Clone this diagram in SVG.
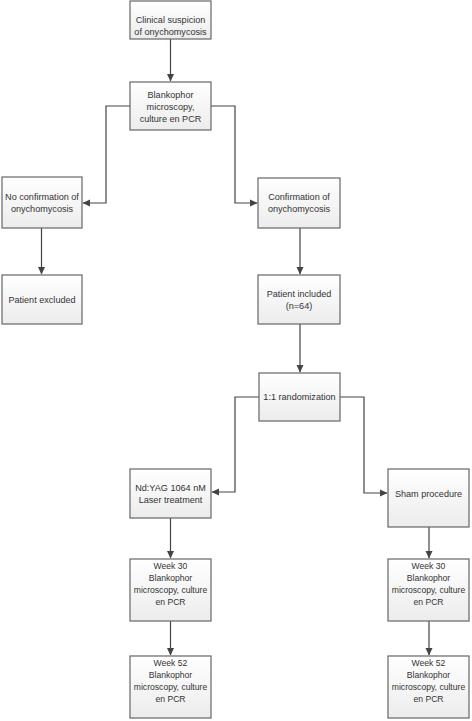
<svg xmlns="http://www.w3.org/2000/svg" width="472" height="721" viewBox="0 0 472 721">
<defs>
<linearGradient id="g" x1="0" y1="0" x2="0" y2="1">
<stop offset="0" stop-color="#ffffff"/>
<stop offset="1" stop-color="#ececec"/>
</linearGradient>
<marker id="ah" markerWidth="8" markerHeight="8" refX="7" refY="4" orient="auto" markerUnits="userSpaceOnUse">
<path d="M0,0.5 L7.5,4 L0,7.5 Z" fill="#444"/>
</marker>
<style>
rect{fill:url(#g);stroke:#666;stroke-width:1.2}
text{font-family:"Liberation Sans",Arial,sans-serif;font-size:9.1px;fill:#333;text-anchor:middle}
.w{font-size:8.6px}
#connectors path{fill:none;stroke:#444;stroke-width:1.2;marker-end:url(#ah)}
</style>
</defs>
<rect x="0" y="0" width="472" height="721" style="fill:#fff;stroke:none"/>
<g id="connectors">
<path d="M170.5,39 V81"/>
<path d="M130,106 H106 V203 H83"/>
<path d="M211,106 H235 V203 H257"/>
<path d="M41.5,228 V274"/>
<path d="M300,228 V274"/>
<path d="M300,324 V372"/>
<path d="M259,397 H235 V492 H212"/>
<path d="M340,397 H364 V493 H387"/>
<path d="M170.5,518 V558"/>
<path d="M170.5,621 V655"/>
<path d="M429,527 V558"/>
<path d="M429,621 V655"/>
</g>
<g id="n1"><rect x="130" y="1" width="81" height="38"/><text x="170.5" y="22.5">Clinical suspicion</text><text x="170.5" y="34.5">of onychomycosis</text></g>
<g id="n2"><rect x="130" y="82" width="81" height="48"/><text x="170.5" y="98">Blankophor</text><text x="170.5" y="110">microscopy,</text><text x="170.5" y="122">culture en PCR</text></g>
<g id="n3"><rect x="2" y="177" width="80" height="51"/><text x="42" y="200">No confirmation of</text><text x="42" y="212">onychomycosis</text></g>
<g id="n4"><rect x="258" y="178" width="82" height="50"/><text x="299" y="200">Confirmation of</text><text x="299" y="212">onychomycosis</text></g>
<g id="n5"><rect x="2" y="275" width="80" height="49"/><text x="42" y="302.5">Patient excluded</text></g>
<g id="n6"><rect x="258" y="275" width="82" height="49"/><text x="299" y="297">Patient included</text><text x="299" y="309">(n=64)</text></g>
<g id="n7"><rect x="259" y="373" width="81" height="48"/><text x="299.5" y="400">1:1 randomization</text></g>
<g id="n8"><rect x="130" y="469" width="81" height="49"/><text x="170.5" y="491">Nd:YAG 1064 nM</text><text x="170.5" y="503">Laser treatment</text></g>
<g id="n9"><rect x="388" y="469" width="81" height="58"/><text x="428.5" y="496.5">Sham procedure</text></g>
<g id="n10"><rect x="130" y="559" width="81" height="62"/><text class="w" x="170.5" y="569">Week 30</text><text class="w" x="170.5" y="581">Blankophor</text><text class="w" x="170.5" y="593">microscopy, culture</text><text class="w" x="170.5" y="605">en PCR</text></g>
<g id="n11"><rect x="130" y="656" width="81" height="62"/><text class="w" x="170.5" y="666">Week 52</text><text class="w" x="170.5" y="678">Blankophor</text><text class="w" x="170.5" y="690">microscopy, culture</text><text class="w" x="170.5" y="702">en PCR</text></g>
<g id="n12"><rect x="388" y="559" width="81" height="62"/><text class="w" x="428.5" y="569">Week 30</text><text class="w" x="428.5" y="581">Blankophor</text><text class="w" x="428.5" y="593">microscopy, culture</text><text class="w" x="428.5" y="605">en PCR</text></g>
<g id="n13"><rect x="388" y="656" width="81" height="62"/><text class="w" x="428.5" y="666">Week 52</text><text class="w" x="428.5" y="678">Blankophor</text><text class="w" x="428.5" y="690">microscopy, culture</text><text class="w" x="428.5" y="702">en PCR</text></g>
</svg>
